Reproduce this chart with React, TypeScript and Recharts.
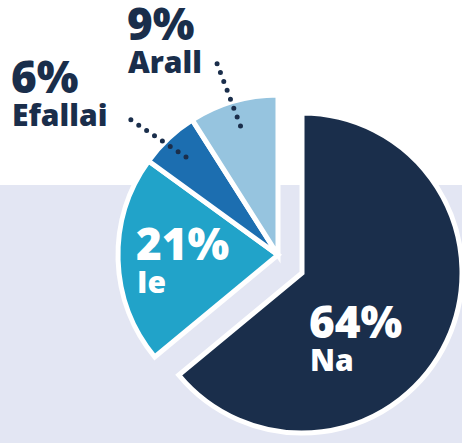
import { PieChart, Pie, Cell } from 'recharts';

const names = ['Na', 'Ie', 'Efallai', 'Arall'];
const values = [64, 21, 6, 9];
const colors = ['#1a2e4b', '#21a3c9', '#1c6eb0', '#96c4df'];
// the "Na" slice is pulled out of the pie
const exploded = [true, false, false, false];

const data = names.map((name, i) => ({ name, value: values[i] }));

const RAD = Math.PI / 180;
const dark = '#1a2e4b';
const font = '"Open Sans", Lato, sans-serif';

// text block position (left edge, baseline of the % line) relative to the slice centre
const labelPos = [
  { dx: 7, dy: 65, inside: true },
  { dx: -142, dy: 5, inside: true },
  { dx: -267, dy: -162, inside: false, turn: 4.5, reach: 1.29 },
  { dx: -151, dy: -215, inside: false, turn: 1.5, reach: 1.27 },
];

function polar(cx: number, cy: number, r: number, angle: number) {
  return { x: cx + r * Math.cos(-angle * RAD), y: cy + r * Math.sin(-angle * RAD) };
}

function makeLabel(forExploded: boolean) {
  return (props: any) => {
    const { cx, cy, midAngle, outerRadius, index } = props;
    if (exploded[index] !== forExploded) return <g />;
    const pos = labelPos[index];
    const x = cx + pos.dx;
    const y = cy + pos.dy;
    const fill = pos.inside ? '#fff' : dark;
    let leader = null;
    if (!pos.inside) {
      const a = polar(cx, cy, outerRadius * 0.84, midAngle);
      const b = polar(cx, cy, outerRadius * (pos.reach ?? 1.28), midAngle + (pos.turn ?? 0));
      leader = (
        <line x1={a.x} y1={a.y} x2={b.x} y2={b.y} stroke={dark} strokeWidth={5}
          strokeLinecap="round" strokeDasharray="0 9.5" />
      );
    }
    return (
      <g>
        {leader}
        <text x={x} y={y} fill={fill} fontFamily={font} fontWeight={800} fontSize={44}>
          {values[index]}%
        </text>
        <text x={x + 1} y={y + 33} fill={fill} fontFamily={font} fontWeight={800} fontSize={30}>
          {names[index]}
        </text>
      </g>
    );
  };
}

export default function App() {
  return (
    <div
      style={{
        width: 462,
        height: 443,
        background: 'linear-gradient(to bottom, #ffffff 0px, #ffffff 185px, #e3e6f3 185px)',
      }}
    >
      <style>{'body{margin:0}'}</style>
      <PieChart width={462} height={443} margin={{ top: 0, right: 0, bottom: 0, left: 0 }}>
        <Pie
          data={data}
          dataKey="value"
          nameKey="name"
          cx={278}
          cy={255}
          outerRadius={160}
          startAngle={90}
          endAngle={-270}
          stroke="#fff"
          strokeWidth={5}
          labelLine={false}
          label={makeLabel(false)}
          isAnimationActive={false}
        >
          {data.map((d, i) => (
            <Cell key={d.name} fill={exploded[i] ? 'transparent' : colors[i]} stroke={exploded[i] ? 'none' : '#fff'} />
          ))}
        </Pie>
        <Pie
          data={data}
          dataKey="value"
          nameKey="name"
          cx={302}
          cy={273}
          outerRadius={160}
          startAngle={90}
          endAngle={-270}
          stroke="#fff"
          strokeWidth={5}
          labelLine={false}
          label={makeLabel(true)}
          isAnimationActive={false}
        >
          {data.map((d, i) => (
            <Cell key={d.name} fill={exploded[i] ? colors[i] : 'transparent'} stroke={exploded[i] ? '#fff' : 'none'} />
          ))}
        </Pie>
      </PieChart>
    </div>
  );
}
